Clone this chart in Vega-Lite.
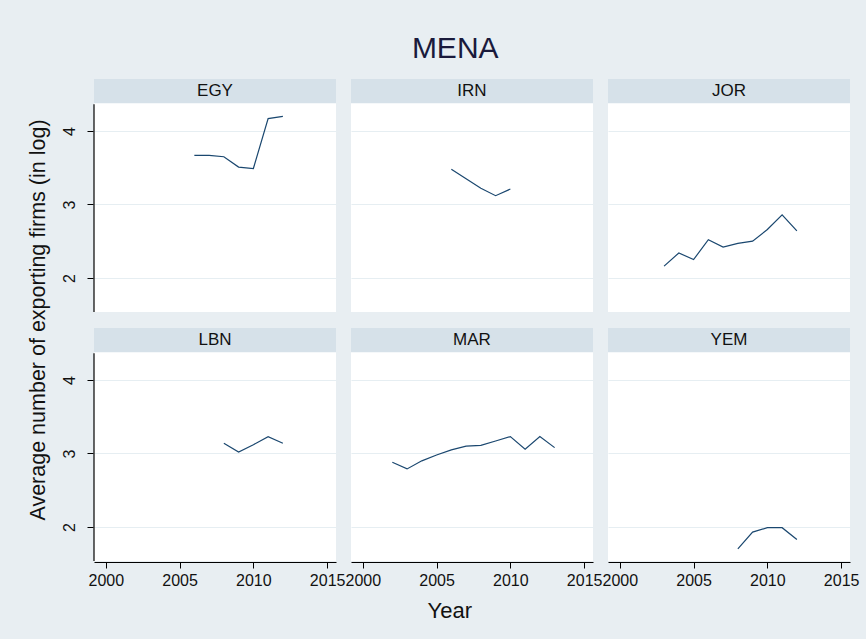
{
  "$schema": "https://vega.github.io/schema/vega-lite/v6.json",
  "background": "#e8eef2",
  "padding": {"left": 27, "top": 34, "right": 10, "bottom": 18},
  "title": {"text": "MENA", "fontSize": 30, "font": "Liberation Sans", "fontWeight": "normal", "color": "#1a1a3c", "offset": 15, "anchor": "middle", "dx": 12},
  "data": {"values": [
    {"country": "EGY", "year": 2006, "value": 3.67},
    {"country": "EGY", "year": 2007, "value": 3.67},
    {"country": "EGY", "year": 2008, "value": 3.65},
    {"country": "EGY", "year": 2009, "value": 3.51},
    {"country": "EGY", "year": 2010, "value": 3.49},
    {"country": "EGY", "year": 2011, "value": 4.17},
    {"country": "EGY", "year": 2012, "value": 4.2},
    {"country": "IRN", "year": 2006, "value": 3.48},
    {"country": "IRN", "year": 2007, "value": 3.35},
    {"country": "IRN", "year": 2008, "value": 3.22},
    {"country": "IRN", "year": 2009, "value": 3.12},
    {"country": "IRN", "year": 2010, "value": 3.21},
    {"country": "JOR", "year": 2003, "value": 2.16},
    {"country": "JOR", "year": 2004, "value": 2.34},
    {"country": "JOR", "year": 2005, "value": 2.25},
    {"country": "JOR", "year": 2006, "value": 2.52},
    {"country": "JOR", "year": 2007, "value": 2.42},
    {"country": "JOR", "year": 2008, "value": 2.47},
    {"country": "JOR", "year": 2009, "value": 2.5},
    {"country": "JOR", "year": 2010, "value": 2.66},
    {"country": "JOR", "year": 2011, "value": 2.86},
    {"country": "JOR", "year": 2012, "value": 2.64},
    {"country": "LBN", "year": 2008, "value": 3.14},
    {"country": "LBN", "year": 2009, "value": 3.02},
    {"country": "LBN", "year": 2010, "value": 3.12},
    {"country": "LBN", "year": 2011, "value": 3.23},
    {"country": "LBN", "year": 2012, "value": 3.14},
    {"country": "MAR", "year": 2002, "value": 2.88},
    {"country": "MAR", "year": 2003, "value": 2.79},
    {"country": "MAR", "year": 2004, "value": 2.9},
    {"country": "MAR", "year": 2005, "value": 2.98},
    {"country": "MAR", "year": 2006, "value": 3.05},
    {"country": "MAR", "year": 2007, "value": 3.1},
    {"country": "MAR", "year": 2008, "value": 3.11},
    {"country": "MAR", "year": 2009, "value": 3.17},
    {"country": "MAR", "year": 2010, "value": 3.23},
    {"country": "MAR", "year": 2011, "value": 3.06},
    {"country": "MAR", "year": 2012, "value": 3.23},
    {"country": "MAR", "year": 2013, "value": 3.08},
    {"country": "YEM", "year": 2008, "value": 1.7},
    {"country": "YEM", "year": 2009, "value": 1.93},
    {"country": "YEM", "year": 2010, "value": 1.99},
    {"country": "YEM", "year": 2011, "value": 1.99},
    {"country": "YEM", "year": 2012, "value": 1.83}
  ]},
  "transform": [
    {"calculate": "indexof(['EGY','IRN','JOR'], datum.country) >= 0 ? 'r1' : 'r2'", "as": "prow"},
    {"calculate": "indexof(['EGY','LBN'], datum.country) >= 0 ? 'c1' : (indexof(['IRN','MAR'], datum.country) >= 0 ? 'c2' : 'c3')", "as": "pcol"}
  ],
  "facet": {
    "row": {"field": "prow", "type": "nominal", "title": "Average number of exporting firms (in log)",
      "header": {"labels": false, "labelExpr": "''", "labelFontSize": 1, "labelPadding": 0, "titleOrient": "left", "titleAngle": -90, "titleFontSize": 21.5, "titleFont": "Liberation Sans", "titleFontWeight": "normal", "titleColor": "#111111", "titlePadding": -20}},
    "column": {"field": "pcol", "type": "nominal", "title": "Year",
      "header": {"labels": false, "labelExpr": "''", "labelFontSize": 1, "labelPadding": 0, "titleOrient": "bottom", "titleFontSize": 22, "titleFont": "Liberation Sans", "titleFontWeight": "normal", "titleColor": "#111111", "titlePadding": 3, "titleAlign": "right"}}
  },
  "spacing": {"row": 15, "column": 15},
  "spec": {
    "width": 242,
    "height": 233,
    "layer": [
      {
        "transform": [{"aggregate": [{"op": "count", "as": "n"}], "groupby": ["country", "prow", "pcol"]}],
        "mark": {"type": "rect", "fill": "#d6e1e9"},
        "encoding": {
          "x": {"datum": 1999.2, "type": "quantitative",
            "axis": {"values": [2000, 2005, 2010, 2015], "format": "d", "title": null}},
          "x2": {"datum": 2015.6},
          "y": {"datum": 4.378, "type": "quantitative",
            "axis": {"values": [2, 3, 4], "format": "d", "title": null}},
          "y2": {"datum": 4.709}
        }
      },
      {
        "mark": {"type": "line", "color": "#1a476f", "strokeWidth": 1.2},
        "encoding": {
          "x": {"field": "year", "type": "quantitative",
            "scale": {"domain": [1999.2, 2015.6], "nice": false, "zero": false},
            "axis": {"values": [2000, 2005, 2010, 2015], "format": "d", "title": null}},
          "y": {"field": "value", "type": "quantitative",
            "scale": {"domain": [1.536, 4.709], "nice": false, "zero": false},
            "axis": {"values": [2, 3, 4], "format": "d", "title": null}}
        }
      },
      {
        "transform": [{"aggregate": [{"op": "count", "as": "n"}], "groupby": ["country", "prow", "pcol"]}],
        "mark": {"type": "text", "fontSize": 17, "font": "Liberation Sans", "color": "#111111", "baseline": "middle", "align": "center"},
        "encoding": {
          "x": {"datum": 2007.4, "type": "quantitative",
            "axis": {"values": [2000, 2005, 2010, 2015], "format": "d", "title": null}},
          "y": {"datum": 4.545, "type": "quantitative",
            "axis": {"values": [2, 3, 4], "format": "d", "title": null}},
          "text": {"field": "country"}
        }
      },
      {
        "transform": [{"aggregate": [{"op": "count", "as": "n"}], "groupby": ["country", "prow", "pcol"]},
                      {"filter": {"field": "pcol", "equal": "c1"}}],
        "mark": {"type": "rule", "color": "black", "strokeWidth": 1.2},
        "encoding": {
          "x": {"datum": 1999.2, "type": "quantitative",
            "axis": {"values": [2000, 2005, 2010, 2015], "format": "d", "title": null}},
          "y": {"datum": 1.536, "type": "quantitative",
            "axis": {"values": [2, 3, 4], "format": "d", "title": null}},
          "y2": {"datum": 4.364}
        }
      }
    ]
  },
  "config": {
    "view": {"stroke": null, "fill": "white"},
    "font": "Liberation Sans",
    "axisX": {"grid": false,
      "domainColor": "black", "tickColor": "black", "tickSize": 6, "labelPadding": 4,
      "labelFontSize": 16, "labelFont": "Liberation Sans", "labelColor": "#111111",
      "labelOverlap": false, "labelFlush": false, "labelBound": false},
    "axisY": {"domain": false,
      "grid": true, "gridColor": "#e6eef2", "gridWidth": 1.2,
      "tickColor": "black", "tickSize": 6, "labelAngle": -90, "labelAlign": "center", "labelBaseline": "bottom", "labelPadding": 10,
      "labelFontSize": 16, "labelFont": "Liberation Sans", "labelColor": "#111111"}
  }
}
